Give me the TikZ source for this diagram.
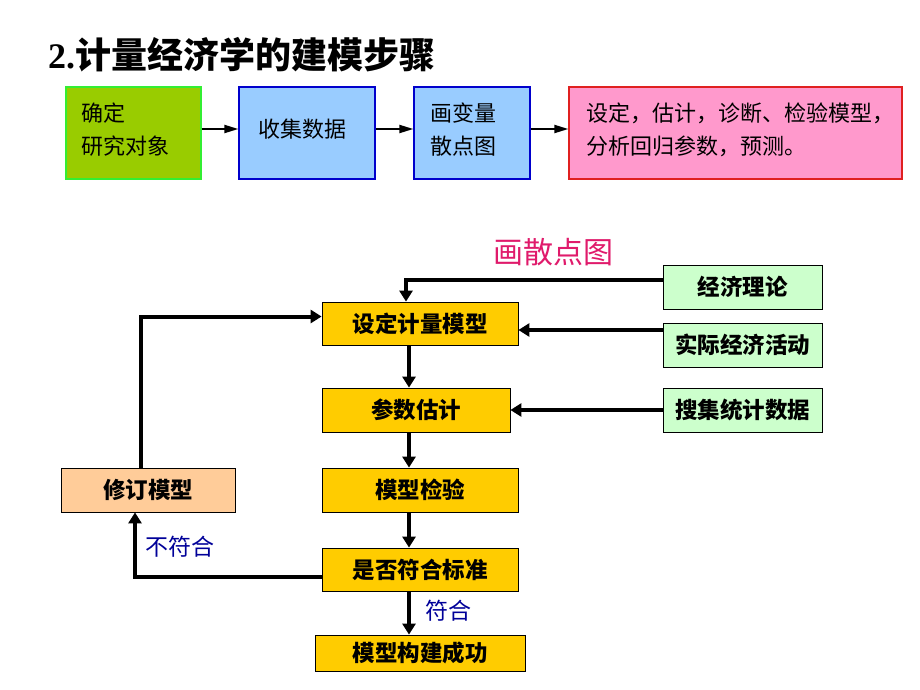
\documentclass[tikz,border=0pt]{standalone}
\usepackage{fontspec}
\setmainfont{Liberation Serif}
\newfontfamily\cjk{Noto Sans CJK SC}
\usetikzlibrary{arrows.meta}
\definecolor{tgreen}{HTML}{99CC00}
\definecolor{tgreenb}{HTML}{33EE33}
\definecolor{tblue}{HTML}{99CCFF}
\definecolor{tblueb}{HTML}{0000CC}
\definecolor{tpink}{HTML}{FF99CC}
\definecolor{tpinkb}{HTML}{E02020}
\definecolor{gold}{HTML}{FFCC00}
\definecolor{peach}{HTML}{FFCC99}
\definecolor{lgreen}{HTML}{CCFFCC}
\definecolor{navy}{HTML}{000099}
\definecolor{rosetxt}{HTML}{E01A6B}
\tikzset{
  topbox/.style={draw, line width=1.3pt, minimum height=92pt, inner sep=0pt},
  toptext/.style={inner sep=0pt, font=\cjk\fontsize{22}{33}\selectfont, align=left},
  flowbox/.style={draw=black, line width=0.8pt, inner sep=0pt,
    font=\cjk\bfseries\fontsize{22.5}{26}\selectfont},
  toparr/.style={line width=2pt, -{Triangle[length=14pt,width=8pt]}},
  arr/.style={line width=4pt, -{Triangle[length=11pt,width=13pt]}},
  lbl/.style={font=\cjk\fontsize{23}{26}\selectfont, text=navy}
}
\begin{document}
\begin{tikzpicture}[x=1pt,y=-1pt]
\useasboundingbox (0,0) rectangle (920,690);
\fill[white] (0,0) rectangle (920,690);
% title
\node[anchor=west, inner sep=0] (title) at (48,55)
  {\fontsize{36}{42}\selectfont\bfseries 2.\cjk\bfseries\fontsize{36}{42}\selectfont 计量经济学的建模步骤};
% top row
\node[topbox, fill=tgreen, draw=tgreenb, minimum width=135pt] (t1) at (133.5,133) {};
\node[topbox, fill=tblue, draw=tblueb, minimum width=136pt] (t2) at (307,133) {};
\node[topbox, fill=tblue, draw=tblueb, minimum width=116pt] (t3) at (472,133) {};
\node[topbox, fill=tpink, draw=tpinkb, minimum width=333pt] (t4) at (735.5,133) {};
\node[toptext, anchor=west] (t1x) at (81,129.5) {确定\\研究对象};
\node[toptext] (t2x) at (302,129.5) {收集数据};
\node[toptext, anchor=west] (t3x) at (430,129.5) {画变量\\散点图};
\node[toptext, anchor=west] (t4x) at (586,129.5) {设定，估计，诊断、检验模型，\\分析回归参数，预测。};
\draw[toparr] ([yshift=4pt]t1.east) -- ([yshift=4pt]t2.west);
\draw[toparr] ([yshift=4pt]t2.east) -- ([yshift=4pt]t3.west);
\draw[toparr] ([yshift=4pt]t3.east) -- ([yshift=4pt]t4.west);
% lower diagram
\node[font=\cjk\fontsize{30}{34}\selectfont, text=rosetxt] (sdt) at (553,252) {画散点图};
\node[flowbox, fill=gold, minimum width=196pt, minimum height=43pt] (sd) at (420,323.5) {设定计量模型};
\node[flowbox, fill=gold, minimum width=188pt, minimum height=44pt] (cs) at (416,410) {参数估计};
\node[flowbox, fill=gold, minimum width=196pt, minimum height=44pt] (jy) at (420,490) {模型检验};
\node[flowbox, fill=gold, minimum width=196pt, minimum height=43pt] (sf) at (420,569.5) {是否符合标准};
\node[flowbox, fill=gold, minimum width=210pt, minimum height=36pt] (cg) at (420,653) {模型构建成功};
\node[flowbox, fill=peach, minimum width=174pt, minimum height=44pt] (xd) at (148,490) {修订模型};
\node[flowbox, fill=lgreen, minimum width=159pt, minimum height=44pt] (jj) at (742.5,287) {经济理论};
\node[flowbox, fill=lgreen, minimum width=159pt, minimum height=44pt] (sj) at (742.5,345) {实际经济活动};
\node[flowbox, fill=lgreen, minimum width=159pt, minimum height=44pt] (sc) at (742.5,410) {搜集统计数据};
\coordinate (vx) at (409,0);
% connectors
\draw[arr] ([yshift=7pt]jj.west) -| ([xshift=-14pt]sd.north);
\draw[arr] ([yshift=15pt]sj.west) coordinate (a1) -- (a1 -| sd.east);
\draw[arr] (sc.west) -- (sc.west -| cs.east);
\draw[arr] (sd.south -| vx) -- (cs.north -| vx);
\draw[arr] (cs.south -| vx) -- (jy.north -| vx);
\draw[arr] (jy.south -| vx) -- (sf.north -| vx);
\draw[arr] (sf.south -| vx) -- (cg.north -| vx);
\draw[arr] ([yshift=-7pt]sf.west) -| ([xshift=-13pt]xd.south);
\draw[arr] ([xshift=-7pt]xd.north) |- ([yshift=7pt]sd.west);
\node[lbl] (lb1) at (448,611) {符合};
\node[lbl] (lb2) at (180,547) {不符合};
\end{tikzpicture}
\end{document}
